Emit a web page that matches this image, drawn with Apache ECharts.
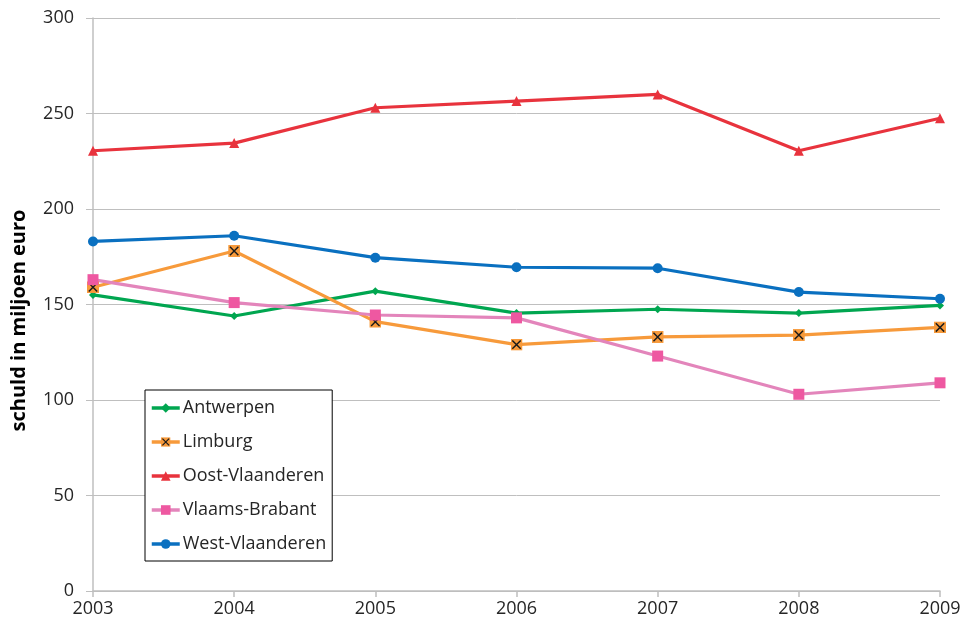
<!DOCTYPE html>
<html>
<head>
<meta charset="utf-8">
<script src="https://cdn.jsdelivr.net/npm/echarts@6/dist/echarts.min.js"></script>
<style>
  html, body { margin: 0; padding: 0; background: #fff; }
  #chart { width: 965px; height: 627px; }
</style>
</head>
<body>
<div id="chart"></div>
<script>
// Years on the horizontal axis
const years = ['2003', '2004', '2005', '2006', '2007', '2008', '2009'];

// Debt per province, in million euro
const antwerpen = [155, 144, 157, 145.5, 147.5, 145.5, 149.5];
const limburg = [159, 178, 141, 129, 133, 134, 138];
const oostVlaanderen = [230.5, 234.5, 253, 256.5, 260, 230.5, 247.5];
const vlaamsBrabant = [163, 151, 144.5, 143, 123, 103, 109];
const westVlaanderen = [183, 186, 174.5, 169.5, 169, 156.5, 153];

const axisColor = '#bfbfbf';
const textColor = '#262626';
const fontFamily = 'Open Sans, Noto Sans, sans-serif';

// Orange square with a black cross for the Limburg series
const crossSquare = 'image://data:image/svg+xml;utf8,' + encodeURIComponent(
  '<svg xmlns="http://www.w3.org/2000/svg" width="20" height="20" viewBox="0 0 20 20">' +
  '<rect x="0" y="0" width="20" height="20" fill="#f79a3b"/>' +
  '<path d="M3 3 L17 17 M17 3 L3 17" stroke="#1a1a1a" stroke-width="2.4"/>' +
  '</svg>');

function lineSeries(name, data, color, symbol, size, symbolColor) {
  return {
    name: name,
    type: 'line',
    data: data,
    symbol: symbol,
    symbolSize: size,
    showAllSymbol: true,
    lineStyle: { color: color, width: 3.2 },
    itemStyle: { color: symbolColor || color, borderWidth: 0 },
    emphasis: { disabled: true },
    animation: false,
    z: 3
  };
}

const chart = echarts.init(document.getElementById('chart'), null, { renderer: 'canvas' });
chart.setOption({
  backgroundColor: '#ffffff',
  animation: false,
  grid: { left: 93, right: 25, top: 18, bottom: 36, containLabel: false, outerBoundsMode: 'none' },
  legend: {
    orient: 'vertical',
    left: 145,
    top: 390,
    padding: [9, 6, 8, 5],
    itemGap: 16,
    itemWidth: 28,
    itemHeight: 12,
    borderColor: '#000',
    borderWidth: 1,
    backgroundColor: '#fff',
    lineStyle: { width: 3.5 },
    textStyle: { fontSize: 18, color: textColor, fontFamily: fontFamily, padding: [0, 0, 0, -2] },
    data: ['Antwerpen', 'Limburg', 'Oost-Vlaanderen', 'Vlaams-Brabant', 'West-Vlaanderen']
  },
  xAxis: {
    type: 'category',
    data: years,
    boundaryGap: false,
    axisLine: { show: true, lineStyle: { color: axisColor, width: 1.5 } },
    axisTick: { show: true, length: 6, alignWithLabel: true, lineStyle: { color: axisColor, width: 1.5 } },
    axisLabel: { fontSize: 18, color: textColor, fontFamily: fontFamily, margin: 9 },
    splitLine: { show: false }
  },
  yAxis: {
    type: 'value',
    min: 0,
    max: 300,
    interval: 50,
    name: 'schuld in miljoen euro',
    nameLocation: 'middle',
    nameGap: 64,
    nameRotate: 90,
    nameTextStyle: { fontSize: 20, fontWeight: 'bold', color: '#000', fontFamily: fontFamily, padding: [0, 32, 0, 0] },
    axisLine: { show: true, lineStyle: { color: axisColor, width: 1.5 } },
    axisTick: { show: true, length: 7, lineStyle: { color: axisColor, width: 1 } },
    axisLabel: { fontSize: 18, color: textColor, fontFamily: fontFamily, margin: 19 },
    splitLine: { show: true, lineStyle: { color: axisColor, width: 1 } }
  },
  series: [
    lineSeries('Antwerpen', antwerpen, '#00a650', 'diamond', 8),
    lineSeries('Limburg', limburg, '#f79a3b', crossSquare, 12),
    lineSeries('Oost-Vlaanderen', oostVlaanderen, '#e8333d', 'triangle', 10),
    lineSeries('Vlaams-Brabant', vlaamsBrabant, '#e385bb', 'rect', 11, '#ee58a1'),
    lineSeries('West-Vlaanderen', westVlaanderen, '#0a70c0', 'circle', 10)
  ]
});
</script>
</body>
</html>
